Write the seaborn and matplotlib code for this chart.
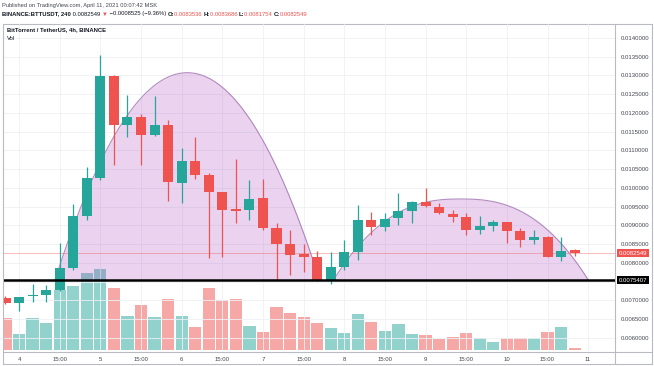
import numpy as np
import pandas as pd
import matplotlib
matplotlib.use("Agg")
import matplotlib.pyplot as plt
import seaborn as sns
from matplotlib.lines import Line2D

# ---------------- data ----------------
bar_idx = list(range(43))
opens = [0.00707, 0.00693, 0.00712, 0.00715, 0.00728, 0.00786, 0.00924, 0.01026, 0.01299, 0.01168,
         0.01188, 0.01141, 0.01167, 0.01014, 0.01071, 0.01035, 0.00988, 0.00943, 0.00940, 0.00972,
         0.00894, 0.00851, 0.00823, 0.00817, 0.0075407, 0.00789, 0.00830, 0.00915, 0.00897, 0.00919,
         0.00939, 0.00963, 0.00950, 0.00931, 0.00922, 0.00888, 0.00899, 0.00908, 0.00886, 0.00861,
         0.00870, 0.00817, 0.0083536]
highs = [0.00712, 0.00710, 0.00745, 0.00741, 0.00852, 0.00957, 0.01057, 0.01355, 0.01300, 0.01248,
         0.01197, 0.01244, 0.01181, 0.01106, 0.01137, 0.01041, 0.00990, 0.01077, 0.01020, 0.01023,
         0.00906, 0.00888, 0.00850, 0.00832, 0.00830, 0.00861, 0.00955, 0.00937, 0.00933, 0.00986,
         0.00964, 0.00999, 0.00961, 0.00941, 0.00933, 0.00925, 0.00915, 0.00910, 0.00893, 0.00888,
         0.00872, 0.00870, 0.0083686]
lows = [0.00690, 0.00672, 0.00695, 0.00696, 0.00725, 0.00781, 0.00915, 0.01020, 0.01061, 0.01137,
        0.01061, 0.01138, 0.00964, 0.00959, 0.01023, 0.00813, 0.00817, 0.00906, 0.00915, 0.00888,
        0.00755, 0.00768, 0.00777, 0.00752, 0.00745, 0.00781, 0.00808, 0.00875, 0.00886, 0.00901,
        0.00906, 0.00950, 0.00930, 0.00910, 0.00875, 0.00877, 0.00886, 0.00853, 0.00842, 0.00851,
        0.00815, 0.00804, 0.0081754]
closes = [0.00693, 0.00708, 0.00715, 0.00728, 0.00786, 0.00924, 0.01026, 0.01299, 0.01168, 0.01190,
          0.01140, 0.01167, 0.01015, 0.01071, 0.01035, 0.00988, 0.00941, 0.00939, 0.00970, 0.00894,
          0.00851, 0.00821, 0.00817, 0.0075407, 0.00789, 0.00829, 0.00915, 0.00897, 0.00917, 0.00939,
          0.00962, 0.00952, 0.00933, 0.00922, 0.00888, 0.00899, 0.00908, 0.00886, 0.00861, 0.00870,
          0.00817, 0.00832, 0.0082549]
volumes = [317, 157, 317, 273, 600, 640, 767, 807, 623, 343,
           447, 327, 507, 340, 227, 623, 500, 507, 240, 183,
           427, 367, 333, 267, 217, 167, 357, 277, 193, 260,
           157, 150, 107, 133, 167, 117, 83, 117, 117, 117,
           183, 233, 17]

x_tick_bars = [1, 4, 7, 10, 13, 16, 19, 22, 25, 28, 31, 34, 37, 40, 43]
x_tick_labels = ["4", "15:00", "5", "15:00", "6", "15:00", "7", "15:00", "8", "15:00",
                 "9", "15:00", "10", "15:00", "11"]
price_ticks = [0.0060, 0.0065, 0.0070, 0.0075, 0.0080, 0.0085, 0.0090, 0.0095, 0.0100,
               0.0105, 0.0110, 0.0115, 0.0120, 0.0125, 0.0130, 0.0135, 0.0140]
hidden_tick = 0.0075  # covered by the support-level label

support_level = 0.0075407
last_price = 0.0082549
cup_start = [3.65, 24.19]
cup_end = [23.18, 43.02]
cup_peak = [0.013075, 0.009707]
cup_power = [2.0, 2.5]

# ---------------- style ----------------
TEAL = "#26a69a"
RED = "#ef5350"
TXT = "#131722"
sns.set_theme(style="white")
plt.rcParams["font.family"] = ["Liberation Sans", "DejaVu Sans"]

W, H = 654, 366
fig = plt.figure(figsize=(W / 100, H / 100), dpi=100)
fig.patch.set_facecolor("white")


def fx(px):
    return px / W


def fy(py):
    return 1 - py / H


ax = fig.add_axes([fx(4), fy(351), (615 - 4) / W, (351 - 24) / H])
axv = ax.twinx()
axv.set_zorder(1)
ax.set_zorder(2)
ax.patch.set_visible(False)

o = np.array(opens)
c = np.array(closes)
hi = np.array(highs)
lo = np.array(lows)
up = c >= o

# volume with seaborn
df = pd.DataFrame({"bar": bar_idx, "vol": volumes, "dir": np.where(up, "up", "down")})
sns.barplot(data=df, x="bar", y="vol", hue="dir", palette={"up": TEAL, "down": RED},
            native_scale=True, dodge=False, width=0.9, alpha=0.5, saturation=1,
            errorbar=None, legend=False, linewidth=0, ax=axv)
axv.set_ylim(-10, 3260)
axv.set_yticks([])
axv.set_ylabel("")
axv.set_xlabel("")
for s in axv.spines.values():
    s.set_visible(False)

# cups
for s0, e0, pk, pw in zip(cup_start, cup_end, cup_peak, cup_power):
    xs = np.linspace(s0, e0, 300)
    mid = (s0 + e0) / 2
    half = (e0 - s0) / 2
    curve = support_level + (pk - support_level) * (1 - np.abs((xs - mid) / half) ** pw)
    ax.fill_between(xs, support_level, curve, color="#9c27b0", alpha=0.2, lw=0, zorder=1)
    ax.plot(xs, curve, color="#a070b0", lw=0.8, alpha=0.8, zorder=1.5)

# price line
ax.axhline(last_price, color=RED, lw=0.6, alpha=0.45, zorder=2)

# candles
colors = np.where(up, TEAL, RED)
ax.vlines(bar_idx, lo, hi, colors=colors, lw=0.9, zorder=3)
body = np.maximum(np.abs(c - o), 0.00003)
ax.bar(bar_idx, body, bottom=np.minimum(o, c), width=0.74, color=colors, lw=0, zorder=4)

# support line
ax.axhline(support_level, color="black", lw=1.8, zorder=5)

ax.set_xlim(-0.11, 44.98)
ax.set_ylim(0.0056533, 0.0143733)

ax.set_xticks(x_tick_bars)
ax.set_xticklabels(x_tick_labels)
ax.set_yticks(price_ticks)
ax.set_yticklabels(["" if abs(v - hidden_tick) < 1e-9 else f"{v:.7f}" for v in price_ticks])
ax.yaxis.tick_right()
ax.tick_params(axis="y", length=0, pad=4, labelsize=4.3, labelcolor="#434651")
ax.tick_params(axis="x", length=0, pad=4, labelsize=4.3, labelcolor="#434651")
ax.grid(True, color="#eef0f5", lw=0.6)
ax.set_axisbelow(True)
for s in ax.spines.values():
    s.set_visible(False)
ax.set_xlabel("")
ax.set_ylabel("")

# price labels
ytr = ax.get_yaxis_transform()
ax.text(1.006, last_price, f"{last_price:.7f}", transform=ytr, fontsize=4.3, color="white",
        va="center", ha="left", clip_on=False, zorder=10,
        bbox=dict(boxstyle="square,pad=0.25", fc=RED, ec="none"))
ax.text(1.006, support_level, f"{support_level:.7f}", transform=ytr, fontsize=4.3, color="white",
        va="center", ha="left", clip_on=False, zorder=10,
        bbox=dict(boxstyle="square,pad=0.25", fc="black", ec="none"))

# frame lines
frame_col = "#b8bbc2"
for (x0, y0, x1, y1) in [(3, 23.5, 652, 23.5), (3, 364, 652, 364), (3, 23.5, 3, 364),
                         (652, 23.5, 652, 364), (615, 23.5, 615, 364), (3, 352, 652, 352)]:
    fig.add_artist(Line2D([fx(x0), fx(x1)], [fy(y0), fy(y1)], color=frame_col, lw=0.8))

# header texts
renderer = fig.canvas.get_renderer()


def seg_text(x_px, y_px, parts, size):
    x = x_px
    for s, col, wt in parts:
        t = fig.text(fx(x), fy(y_px), s, fontsize=size, color=col, fontweight=wt,
                     va="center", ha="left")
        bb = t.get_window_extent(renderer)
        x += bb.width


seg_text(2, 5, [("Published on TradingView.com, April 11, 2021 00:07:42 MSK", "#434651", "normal")], 4.15)
seg_text(2, 14, [("BINANCE:BTTUSDT, 240", TXT, "bold"),
                 (" 0.0082549 ", TXT, "normal"),
                 ("▼", RED, "normal"),
                 (" \u22120.0008525 (\u22129.36%) ", TXT, "normal"),
                 ("O:", TXT, "bold"), ("0.0083536 ", RED, "normal"),
                 ("H:", TXT, "bold"), ("0.0083686 ", RED, "normal"),
                 ("L:", TXT, "bold"), ("0.0081754 ", RED, "normal"),
                 ("C:", TXT, "bold"), ("0.0082549", RED, "normal")], 4.2)
fig.text(fx(7), fy(30), "BitTorrent / TetherUS, 4h, BINANCE", fontsize=4.2, color=TXT,
         fontweight="bold", va="center", ha="left")
fig.text(fx(7), fy(38), "Vol", fontsize=4.2, color=TXT, va="center", ha="left")

fig.savefig("out.png", dpi=100)
